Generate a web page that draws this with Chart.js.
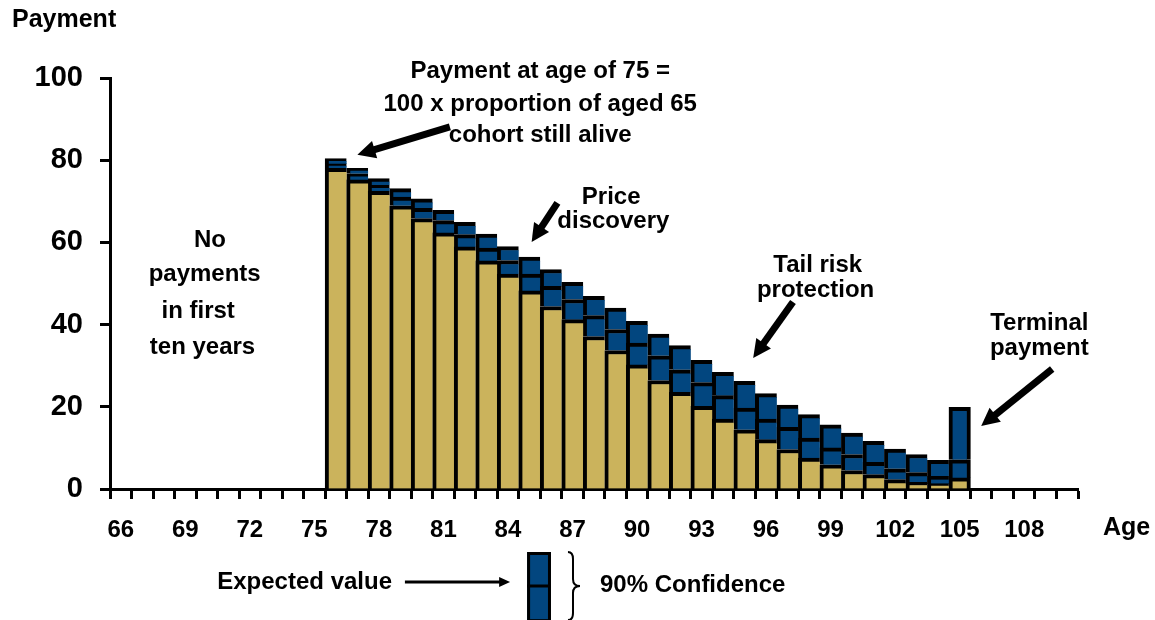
<!DOCTYPE html>
<html>
<head>
<meta charset="utf-8">
<script src="https://cdn.jsdelivr.net/npm/chart.js@4.4.1/dist/chart.umd.min.js"></script>
<style>
html, body { margin: 0; padding: 0; background: #ffffff; }
canvas { display: block; }
</style>
</head>
<body>
<canvas id="c" width="1155" height="620"></canvas>
<script>
// ---- data ----
const ages = [66,67,68,69,70,71,72,73,74,75,76,77,78,79,80,81,82,83,84,85,86,87,88,89,90,91,92,93,94,95,96,97,98,99,100,101,102,103,104,105,106,107,108,109,110];
const xTickLabels = ['66','69','72','75','78','81','84','87','90','93','96','99','102','105','108'];
const yTickValues = [0, 20, 40, 60, 80, 100];
const barAges = [76,77,78,79,80,81,82,83,84,85,86,87,88,89,90,91,92,93,94,95,96,97,98,99,100,101,102,103,104,105];
const lowerBound    = [78.0,75.2,72.4,68.9,65.8,62.3,58.9,55.5,52.3,48.2,44.4,41.2,37.1,33.7,30.2,26.4,23.5,20.1,17.0,14.4,12.0,9.6,7.5,5.9,4.5,3.5,2.3,1.6,1.3,2.7];
const expectedValue = [79.1,76.7,73.9,71.0,68.3,65.3,61.9,58.6,55.6,52.3,49.3,46.1,42.2,38.8,35.5,32.4,29.0,25.9,22.7,19.7,17.0,15.0,12.4,10.0,8.4,6.5,4.9,4.0,3.1,7.1];
const upperBound    = [80.4,78.0,75.5,73.1,70.6,67.8,64.9,62.0,59.0,56.4,53.4,50.3,46.9,44.0,40.8,37.7,34.9,31.3,28.4,26.2,23.2,20.4,18.1,15.6,13.6,11.6,9.7,8.4,7.0,19.9];

const GOLD = '#CBB35C';
const BLUE = '#02467F';
const FONT = "'Liberation Sans', Arial, Helvetica, sans-serif";

function seg(fromArr, toArr) {
  return ages.map(a => {
    const i = barAges.indexOf(a);
    if (i < 0) return null;
    return [fromArr ? fromArr[i] : 0, toArr[i]];
  });
}
const lastBarIndex = ages.indexOf(barAges[barAges.length - 1]);
const bw = ctx => ({ top: 4, left: 4, right: ctx.dataIndex === lastBarIndex ? 4 : 0, bottom: 0 });

// ---- annotations (data coordinates: age, payment) ----
const texts = [
  { t: 'Payment at age of 75 =', a: 85.5, v: 101.5, align: 'center' },
  { t: '100 x proportion of aged 65', a: 85.5, v: 93.7, align: 'center' },
  { t: 'cohort still alive', a: 85.5, v: 86.1, align: 'center' },
  { t: 'No', a: 70.15, v: 60.6, align: 'center' },
  { t: 'payments', a: 69.9, v: 52.1, align: 'center' },
  { t: 'in first', a: 69.6, v: 43.3, align: 'center' },
  { t: 'ten years', a: 69.8, v: 34.5, align: 'center' },
  { t: 'Price', a: 88.8, v: 71.0, align: 'center' },
  { t: 'discovery', a: 88.9, v: 65.2, align: 'center' },
  { t: 'Tail risk', a: 98.4, v: 54.3, align: 'center' },
  { t: 'protection', a: 98.3, v: 48.4, align: 'center' },
  { t: 'Terminal', a: 108.7, v: 40.4, align: 'center' },
  { t: 'payment', a: 108.7, v: 34.3, align: 'center' },
  { t: 'Age', a: 111.66, v: -9.5, align: 'left' },
  { t: 'Expected value', a: 78.61, v: -22.6, align: 'right' },
  { t: '90% Confidence', a: 88.28, v: -23.4, align: 'left' }
];
const arrows = [
  { a1: 81.3, v1: 88.1, a2: 77.0, v2: 81.3 },
  { a1: 86.3, v1: 69.6, a2: 85.1, v2: 60.1 },
  { a1: 97.25, v1: 45.5, a2: 95.4, v2: 31.9 },
  { a1: 109.3, v1: 29.2, a2: 106.0, v2: 15.3 }
];

function drawArrow(ctx, x1, y1, x2, y2, shaft, headL, headW) {
  const ang = Math.atan2(y2 - y1, x2 - x1);
  const c = Math.cos(ang), s = Math.sin(ang);
  const bx = x2 - headL * c, by = y2 - headL * s;
  ctx.lineWidth = shaft;
  ctx.lineCap = 'butt';
  ctx.beginPath(); ctx.moveTo(x1, y1); ctx.lineTo(bx + c, by + s); ctx.stroke();
  ctx.beginPath();
  ctx.moveTo(x2, y2);
  ctx.lineTo(bx + headW / 2 * s, by - headW / 2 * c);
  ctx.lineTo(bx - headW / 2 * s, by + headW / 2 * c);
  ctx.closePath(); ctx.fill();
}

const annotPlugin = {
  id: 'annot',
  afterDraw(chart) {
    const ctx = chart.ctx;
    const xs = chart.scales.x, ys = chart.scales.y;
    const px = a => xs.getPixelForValue(a - ages[0]);
    const py = v => ys.getPixelForValue(v);
    ctx.save();
    ctx.fillStyle = '#000';
    ctx.strokeStyle = '#000';
    ctx.textBaseline = 'middle';
    texts.forEach(o => {
      ctx.textAlign = o.align;
      ctx.font = (o.t === 'Age' ? 'bold 25px ' : 'bold 24px ') + FONT;
      ctx.fillText(o.t, px(o.a), py(o.v));
    });
    // y axis title
    ctx.textAlign = 'left';
    ctx.font = 'bold 25px ' + FONT;
    ctx.fillText('Payment', chart.chartArea.left - 98, py(114.0));
    // arrows
    arrows.forEach(o => drawArrow(ctx, px(o.a1), py(o.v1), px(o.a2), py(o.v2), 7, 18, 18));
    // legend arrow
    drawArrow(ctx, px(79.21), py(-22.6), px(84.1), py(-22.6), 3, 11, 10);
    // legend box
    const bx1 = px(84.89), bx2 = px(86.0), byT = py(-15.33), byB = py(-32.4), byM = py(-23.6);
    ctx.fillStyle = BLUE;
    ctx.fillRect(bx1, byT, bx2 - bx1, byB - byT);
    ctx.lineWidth = 3;
    ctx.strokeRect(bx1 + 1.5, byT + 1.5, bx2 - bx1 - 3, byB - byT - 3);
    ctx.beginPath(); ctx.moveTo(bx1, byM); ctx.lineTo(bx2, byM); ctx.stroke();
    // brace
    const x0 = px(86.79), xt = px(87.35), yT = py(-15.33), yB = py(-31.9), yM = py(-23.6);
    const xm = (x0 + xt) / 2 - 1;
    ctx.lineWidth = 2;
    ctx.beginPath();
    ctx.moveTo(x0, yT);
    ctx.quadraticCurveTo(xm, yT, xm, yT + 7);
    ctx.lineTo(xm, yM - 7);
    ctx.quadraticCurveTo(xm, yM, xt, yM);
    ctx.quadraticCurveTo(xm, yM, xm, yM + 7);
    ctx.lineTo(xm, yB - 7);
    ctx.quadraticCurveTo(xm, yB, x0, yB);
    ctx.stroke();
    ctx.restore();
  }
};

const common = {
  barPercentage: 1.0,
  categoryPercentage: 1.0,
  grouped: false,
  borderColor: '#000',
  borderWidth: bw,
  borderSkipped: 'start'
};

new Chart(document.getElementById('c'), {
  type: 'bar',
  data: {
    labels: ages,
    datasets: [
      Object.assign({ label: 'Lower bound', data: seg(null, lowerBound), backgroundColor: GOLD }, common),
      Object.assign({ label: 'Lower to expected', data: seg(lowerBound, expectedValue), backgroundColor: BLUE }, common),
      Object.assign({ label: 'Expected to upper', data: seg(expectedValue, upperBound), backgroundColor: BLUE }, common)
    ]
  },
  options: {
    responsive: false,
    devicePixelRatio: 1,
    animation: false,
    layout: { padding: { left: 0, right: 77, top: 78, bottom: 0 } },
    plugins: { legend: { display: false }, tooltip: { enabled: false } },
    scales: {
      x: {
        offset: true,
        grid: { offset: true, drawOnChartArea: false, drawTicks: true, tickLength: 10, tickWidth: 3, tickColor: '#000' },
        border: { display: true, color: '#000', width: 3 },
        ticks: {
          autoSkip: false, maxRotation: 0, minRotation: 0, padding: 17, color: '#000',
          font: { family: FONT, size: 24, weight: 'bold' },
          callback: function (value, index) {
            const lab = String(ages[index]);
            return xTickLabels.includes(lab) ? lab : '';
          }
        },
        afterFit: s => { s.height = 131; s.paddingLeft = 0; s.paddingRight = 0; }
      },
      y: {
        min: 0, max: 100,
        afterBuildTicks: s => { s.ticks = yTickValues.map(v => ({ value: v })); },
        grid: { drawOnChartArea: false, drawTicks: true, tickLength: 10, tickWidth: 3, tickColor: '#000' },
        border: { display: true, color: '#000', width: 3 },
        ticks: { padding: 17, color: '#000', font: { family: FONT, size: 29, weight: 'bold' } },
        afterFit: s => { s.width = 110; s.paddingTop = 0; s.paddingBottom = 0; }
      }
    }
  },
  plugins: [annotPlugin]
});
</script>
</body>
</html>
